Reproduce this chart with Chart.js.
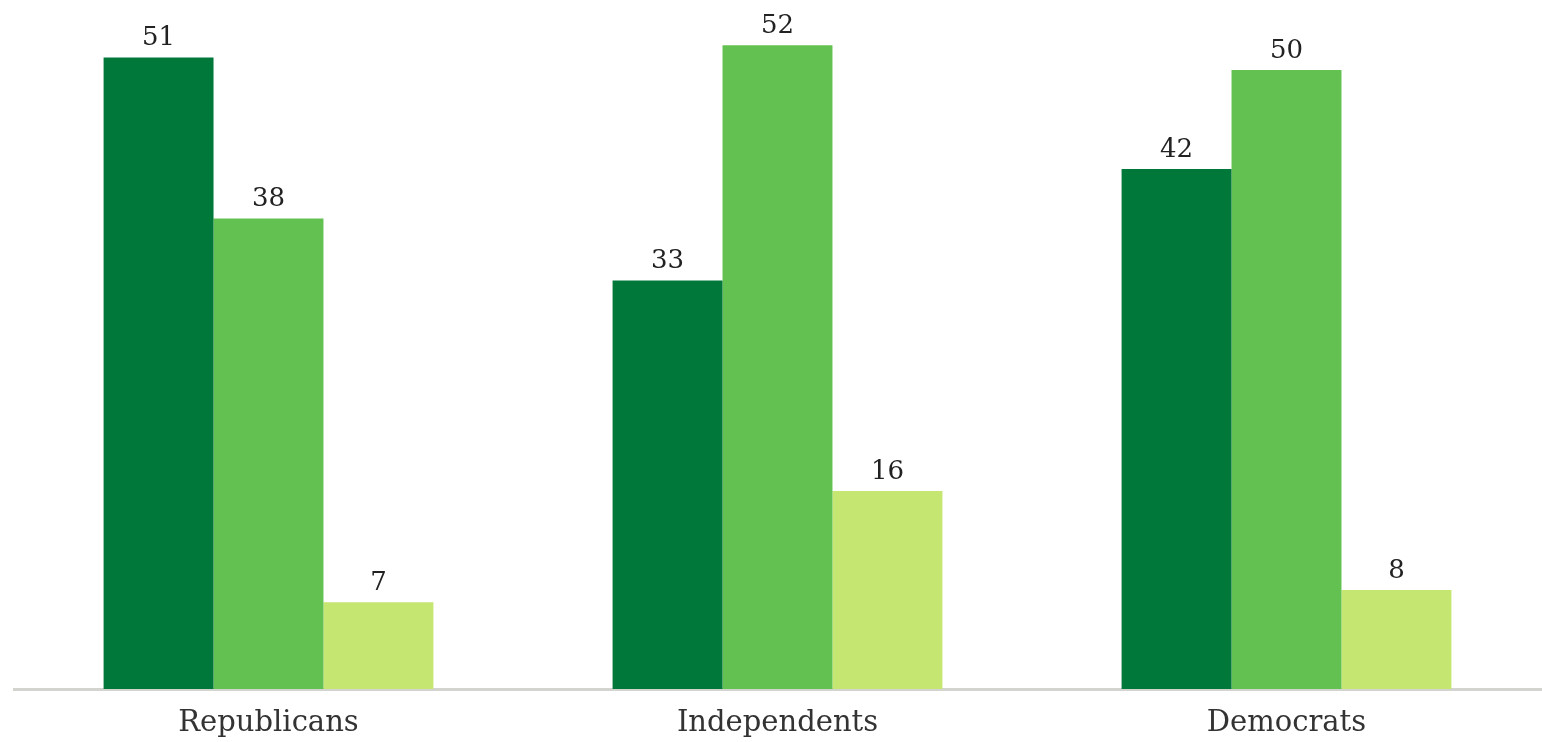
<!DOCTYPE html>
<html>
<head>
<meta charset="utf-8">
<script src="https://cdn.jsdelivr.net/npm/chart.js@4.4.0/dist/chart.umd.min.js"></script>
<style>
html,body{margin:0;padding:0;background:#fff;}
#wrap{width:1542px;height:742px;}
</style>
</head>
<body>
<div id="wrap"><canvas id="c" width="1542" height="742"></canvas></div>
<script>
const categories = ["Republicans", "Independents", "Democrats"];
const series1 = [51, 33, 42];
const series2 = [38, 52, 50];
const series3 = [7, 16, 8];

const FONT = "'DejaVu Serif', Georgia, serif";

const valueLabels = {
  id: 'valueLabels',
  afterDatasetsDraw(chart) {
    const ctx = chart.ctx;
    ctx.save();
    ctx.font = "26px " + FONT;
    ctx.fillStyle = "#222";
    ctx.textAlign = "center";
    ctx.textBaseline = "bottom";
    chart.data.datasets.forEach((ds, i) => {
      const meta = chart.getDatasetMeta(i);
      meta.data.forEach((bar, j) => {
        ctx.fillText(String(ds.data[j]), bar.x, bar.y - 6);
      });
    });
    ctx.restore();
  }
};

new Chart(document.getElementById('c'), {
  type: 'bar',
  data: {
    labels: categories,
    datasets: [
      { data: series1, backgroundColor: '#00783a' },
      { data: series2, backgroundColor: '#63c152' },
      { data: series3, backgroundColor: '#c5e670' }
    ]
  },
  options: {
    responsive: false,
    devicePixelRatio: 1,
    animation: false,
    layout: { padding: { left: 14, right: 1, top: 0, bottom: 0 } },
    datasets: { bar: { barPercentage: 1, categoryPercentage: 0.648 } },
    plugins: { legend: { display: false }, tooltip: { enabled: false } },
    scales: {
      x: {
        grid: { display: false, drawTicks: false },
        border: { display: true, color: '#d3d3cf', width: 3 },
        ticks: { font: { family: FONT, size: 29 }, color: '#333', padding: 17 },
        afterFit: (axis) => { axis.height = 53; }
      },
      y: { display: false, min: 0, max: 55.65 }
    }
  },
  plugins: [valueLabels]
});
</script>
</body>
</html>
